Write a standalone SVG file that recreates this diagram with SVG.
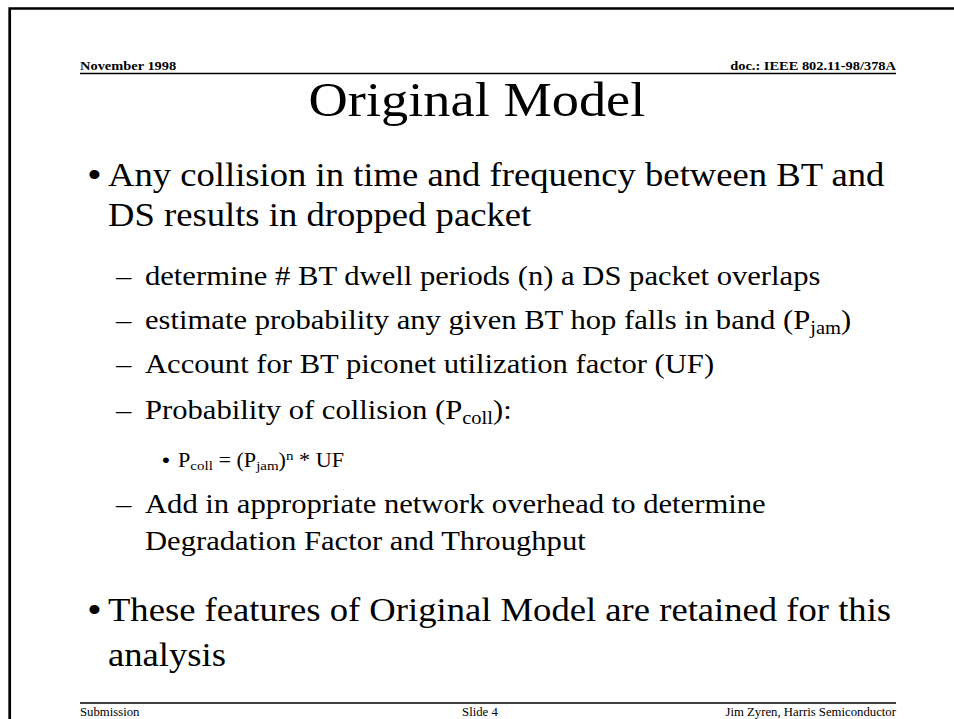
<svg xmlns="http://www.w3.org/2000/svg" width="954" height="719" viewBox="0 0 954 719">
<style>
.t{font-family:"Liberation Serif","Times New Roman",serif;fill:#000}
.hdr{font-size:13px;font-weight:bold}
.ftr{font-size:11.5px}
.title{font-size:49px}
.b1{font-size:33px}
.b2{font-size:27.6px}
.b3{font-size:20px}
.bul{font-family:"Liberation Sans",Arial,sans-serif}
.rule{stroke:#000;fill:none}
</style>
<rect width="954" height="719" fill="#fff"/>
<g id="frame">
<path class="rule" d="M9.7 719 V8.5 H954" stroke-width="2.7"/>
<line class="rule" x1="80" y1="73.5" x2="896" y2="73.5" stroke-width="1.6"/>
<line class="rule" x1="80" y1="703" x2="896" y2="703" stroke-width="1.6"/>
</g>
<g id="text" transform="scale(1.11 1)">
<g id="header">
<text class="t hdr" x="72.1" y="70">November 1998</text>
<text class="t hdr" x="807.2" y="70" text-anchor="end">doc.: IEEE 802.11-98/378A</text>
</g>
<g id="title"><text class="t title" x="429.7" y="116" text-anchor="middle">Original Model</text></g>
<g id="bullet1">
<text class="bul b1" x="79.3" y="186">•</text>
<text class="t b1" x="97.3" y="186">Any collision in time and frequency between BT and</text>
<text class="t b1" x="97.3" y="226">DS results in dropped packet</text>
</g>
<g id="sub1"><text class="t b2" x="104.5" y="285">–</text><text class="t b2" x="130.6" y="285">determine # BT dwell periods (n) a DS packet overlaps</text></g>
<g id="sub2"><text class="t b2" x="104.5" y="329">–</text><text class="t b2" x="130.6" y="329">estimate probability any given BT hop falls in band (P<tspan font-size="18.5" dy="5">jam</tspan><tspan dy="-5">)</tspan></text></g>
<g id="sub3"><text class="t b2" x="104.5" y="373">–</text><text class="t b2" x="130.6" y="373">Account for BT piconet utilization factor (UF)</text></g>
<g id="sub4"><text class="t b2" x="104.5" y="419">–</text><text class="t b2" x="130.6" y="419">Probability of collision (P<tspan font-size="18.5" dy="5">coll</tspan><tspan dy="-5">):</tspan></text></g>
<g id="subsub"><text class="bul b3" x="146" y="467">•</text><text class="t b3" x="160.4" y="467">P<tspan font-size="13.5" dy="3.5">coll</tspan><tspan dy="-3.5"> = (P</tspan><tspan font-size="13.5" dy="3.5">jam</tspan><tspan dy="-3.5">)</tspan><tspan font-size="13.5" dy="-7">n</tspan><tspan dy="7"> * UF</tspan></text></g>
<g id="sub5"><text class="t b2" x="104.5" y="513">–</text><text class="t b2" x="130.6" y="513">Add in appropriate network overhead to determine</text>
<text class="t b2" x="130.6" y="550">Degradation Factor and Throughput</text></g>
<g id="bullet2">
<text class="bul b1" x="79.3" y="621">•</text>
<text class="t b1" x="97.3" y="621">These features of Original Model are retained for this</text>
<text class="t b1" x="97.3" y="666">analysis</text>
</g>
<g id="footer">
<text class="t ftr" x="72.1" y="716">Submission</text>
<text class="t ftr" x="432.4" y="716" text-anchor="middle">Slide 4</text>
<text class="t ftr" x="807.2" y="716" text-anchor="end">Jim Zyren, Harris Semiconductor</text>
</g>
</g>
</svg>
